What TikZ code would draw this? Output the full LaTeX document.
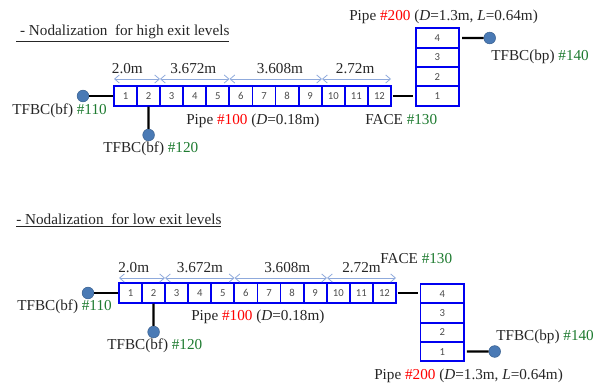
\documentclass[tikz,border=0pt]{standalone}
\usepackage{fontspec}
\usetikzlibrary{arrows.meta}
\setmainfont{Liberation Serif}
\newfontfamily\cellfont{Carlito}
\definecolor{cellblue}{HTML}{0000F0}
\definecolor{portblue}{HTML}{4A7AB5}
\definecolor{dimblue}{HTML}{8FAADC}
\definecolor{idgreen}{HTML}{1E7B30}
\newcommand{\idr}[1]{\textcolor{red}{#1}}
\newcommand{\idg}[1]{\textcolor{idgreen}{#1}}
\begin{document}
\begin{tikzpicture}[
  x=0.75pt, y=-0.75pt,
  label/.style={anchor=base west, inner sep=0pt, text=black!85, font=\fontsize{11.4}{13}\selectfont},
  title/.style={label},
  cell/.style={draw=cellblue, line width=1.4pt, inner sep=0pt, minimum width=17.31pt, minimum height=14.55pt, text=black!70, font=\cellfont\fontsize{8}{9}\selectfont},
  tank/.style={cell, minimum width=32.5pt},
  port/.style={circle, draw=portblue!80!black, fill=portblue, inner sep=0pt, minimum size=8.8pt},
  wire/.style={line width=1.7pt, black},
  dim/.style={{Straight Barb[length=3.5pt,width=6pt]}-{Straight Barb[length=3.5pt,width=6pt]}, dimblue, line width=0.6pt}
]
  \useasboundingbox (0,0) rectangle (603,385);

  \node[title] (th) at (16,35.7) {\underline{\ - Nodalization\ \ for high exit levels}};
  \foreach \i in {1,...,12} \node[cell] (a\i) at ({114+23.08*(\i-0.5)},96) {\i};
  \foreach \i in {1,...,4} \node[tank] (b\i) at (437.4,{96-19.33*(\i-1)}) {\i};

  \node[port] (p110) at (83,96) {};
  \node[port] (p120) at (148.6,135) {};
  \node[port] (p140) at (489.7,38) {};
  \draw[wire] (p110) -- (a1);
  \draw[wire] (a2) -- (p120);
  \draw[wire, shorten <=0.5pt, shorten >=1.5pt] (a12) -- (b1);
  \draw[wire, shorten <=1.5pt] (b4) -- (p140);

  \coordinate (h0) at (114,79);
  \coordinate (h1) at (160,79);
  \coordinate (h2) at (229.5,79);
  \coordinate (h3) at (322,79);
  \coordinate (h4) at (391,79);
  \draw[dim] (h0) -- (h1);
  \draw[dim] (h1) -- (h2);
  \draw[dim] (h2) -- (h3);
  \draw[dim] (h3) -- (h4);

  \node[label] (hd1) at (111.7,74) {2.0m};
  \node[label] (hd2) at (170,74) {3.672m};
  \node[label] (hd3) at (256.7,74) {3.608m};
  \node[label] (hd4) at (335.7,74) {2.72m};
  \node[label] (hl110) at (12,114) {TFBC(bf) \idg{\#110}};
  \node[label] (hl120) at (103,152.7) {TFBC(bf) \idg{\#120}};
  \node[label] (hl100) at (186,124) {Pipe \idr{\#100} (\textit{D}=0.18m)};
  \node[label] (hl130) at (365,124) {FACE \idg{\#130}};
  \node[label] (hl200) at (349,20.7) {Pipe \idr{\#200} (\textit{D}=1.3m, \textit{L}=0.64m)};
  \node[label] (hl140) at (491,61) {TFBC(bp) \idg{\#140}};

  \node[title] (tl) at (16,224.3) {\underline{- Nodalization\ \ for low exit levels}};
  \foreach \i in {1,...,12} \node[cell] (c\i) at ({119+23.08*(\i-0.5)},293) {\i};
  \foreach \i in {1,...,4} \node[tank] (e\i) at (442.2,{351.7-19.33*(\i-1)}) {\i};

  \node[port] (q110) at (88,293) {};
  \node[port] (q120) at (153.6,332) {};
  \node[port] (q140) at (494.7,351.5) {};
  \draw[wire] (q110) -- (c1);
  \draw[wire] (c2) -- (q120);
  \draw[wire, shorten <=0.5pt, shorten >=1.5pt] (c12.east) -- (c12.east -| e4.west);
  \draw[wire, shorten <=1.5pt] (e1) -- (q140);

  \coordinate (k0) at (119,278);
  \coordinate (k1) at (165,278);
  \coordinate (k2) at (234.5,278);
  \coordinate (k3) at (327,278);
  \coordinate (k4) at (396,278);
  \draw[dim] (k0) -- (k1);
  \draw[dim] (k1) -- (k2);
  \draw[dim] (k2) -- (k3);
  \draw[dim] (k3) -- (k4);

  \node[label] (ld1) at (118,272) {2.0m};
  \node[label] (ld2) at (176.7,272) {3.672m};
  \node[label] (ld3) at (264,272) {3.608m};
  \node[label] (ld4) at (342,272) {2.72m};
  \node[label] (ll110) at (17,310) {TFBC(bf) \idg{\#110}};
  \node[label] (ll120) at (107,349.3) {TFBC(bf) \idg{\#120}};
  \node[label] (ll100) at (191,320.3) {Pipe \idr{\#100} (\textit{D}=0.18m)};
  \node[label] (ll130) at (380,263.3) {FACE \idg{\#130}};
  \node[label] (ll200) at (374,379) {Pipe \idr{\#200} (\textit{D}=1.3m, \textit{L}=0.64m)};
  \node[label] (ll140) at (496,340) {TFBC(bp) \idg{\#140}};
\end{tikzpicture}
\end{document}
